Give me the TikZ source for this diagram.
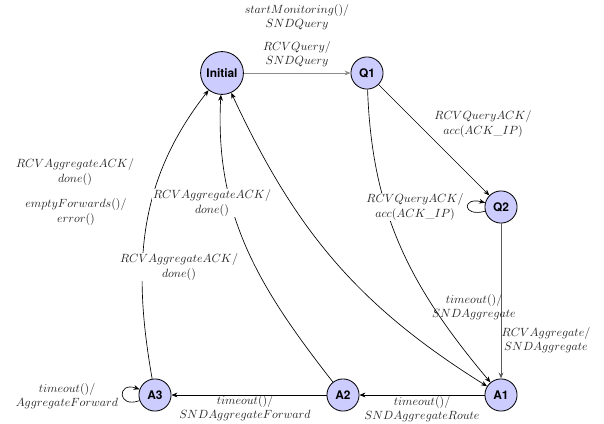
\documentclass[tikz,border=0pt]{standalone}
\usepackage{amsmath}
\usepackage{amssymb}
\usepackage{fontspec}
\newfontfamily\heros{TeX Gyre Heros}
\usetikzlibrary{arrows.meta}

\begin{document}
\begin{tikzpicture}[x=0.84pt, y=0.84pt, line width=0.55pt,
    stnode/.style={circle, draw, line width=0.7pt, fill=blue!20, minimum size=27pt, inner sep=0pt, font=\heros\bfseries},
    lbl/.style={align=center, inner sep=1pt, text=black!85},
    >={Stealth[length=5pt, width=4pt]}]

    \useasboundingbox (0,0) rectangle (604,-423);

    \node[stnode, minimum size=36pt] (init) at (222,-73) {Initial};

    \node[stnode] (q1) at (367,-73) {Q1};

    \node[stnode] (q2) at (501,-207) {Q2};

    \node[stnode] (a1) at (501,-395) {A1};

    \node[stnode] (a2) at (343,-395) {A2};

    \node[stnode] (a3) at (155,-395) {A3};



    \draw[->, black!45] (init) -- (q1);

    \draw[->] (q1) -- (q2);

    \draw[->] (q2.195) .. controls +(195:24) and +(165:24) .. (q2.165);

    \draw[->] (q1) to[out=-88, in=130] (a1);

    \draw[->, black!65, line width=0.8pt] (q2) -- (a1);

    \draw[->] (a1) -- (a2);

    \draw[->] (a2) -- (a3);

    \draw[->] (a3.200) .. controls +(200:24) and +(160:24) .. (a3.160);

    \draw[->] (a3) to[out=100, in=-128] (init);

    \draw[->] (a2) to[out=128, in=-93] (init);

    \draw[<->] (init) to[out=-65, in=148] (a1);



    \node[lbl] (lstart) at (297,-17) {$startMonitoring()/$\\$SNDQuery$};

    \node[lbl] (lquery) at (297,-54) {$RCVQuery/$\\$SNDQuery$};

    \node[lbl] (lqack) at (483,-124) {$RCVQueryACK/$\\$acc(ACK\_IP)$};

    \node[lbl, fill=white] (lqacktwo) at (415,-207) {$RCVQueryACK/$\\$acc(ACK\_IP)$};

    \node[lbl] (ltimeagg) at (474,-307) {$timeout()/$\\$SNDAggregate$};

    \node[lbl] (lrcvagg) at (546,-340) {$RCVAggregate/$\\$SNDAggregate$};

    \node[lbl] (lroute) at (422,-409) {$timeout()/$\\$SNDAggregateRoute$};

    \node[lbl] (lfwd) at (245,-408) {$timeout()/$\\$SNDAggregateForward$};

    \node[lbl] (lloop) at (67,-396) {$timeout()/$\\$AggregateForward$};

    \node[lbl, fill=white] (ldonethree) at (179,-267) {$RCVAggregateACK/$\\$done()$};

    \node[lbl, fill=white] (ldonetwo) at (212,-203) {$RCVAggregateACK/$\\$done()$};

    \node[lbl] (ldoneone) at (75,-172) {$RCVAggregateACK/$\\$done()$};

    \node[lbl] (lerror) at (76,-212) {$emptyForwards()/$\\$error()$};

  \end{tikzpicture}
\end{document}
